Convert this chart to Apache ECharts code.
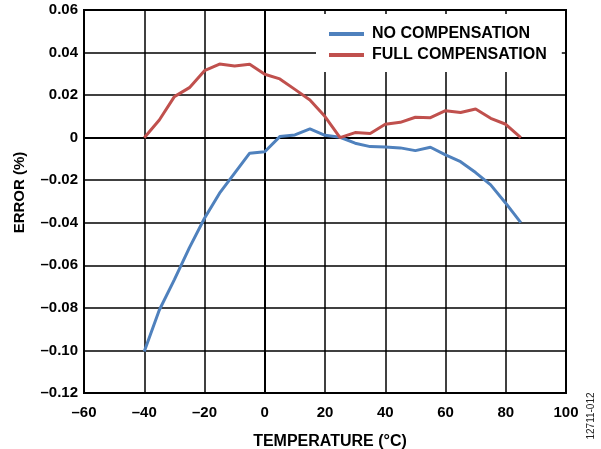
<!DOCTYPE html>
<html>
<head>
<meta charset="utf-8">
<script src="https://cdn.jsdelivr.net/npm/echarts@6/dist/echarts.min.js"></script>
<style>html,body{margin:0;padding:0;background:#fff}#c{width:601px;height:449px}</style>
</head>
<body>
<div id="c"></div>
<script>
var temperatures = [-40,-35,-30,-25,-20,-15,-10,-5,0,5,10,15,20,25,30,35,40,45,50,55,60,65,70,75,80,85];
var noCompensation = [-0.1005,-0.081,-0.0667,-0.0517,-0.0379,-0.0261,-0.0167,-0.0073,-0.0066,0.0005,0.0013,0.0041,0.0011,0.0002,-0.0026,-0.0042,-0.0044,-0.0048,-0.0061,-0.0045,-0.0081,-0.0113,-0.0164,-0.0222,-0.0308,-0.0399];
var fullCompensation = [0.0,0.0083,0.0193,0.0235,0.0315,0.0346,0.0337,0.0345,0.0298,0.0276,0.0227,0.0177,0.0099,0.0,0.0024,0.002,0.0063,0.0072,0.0096,0.0094,0.0127,0.0118,0.0135,0.0091,0.0063,0.0];
var seriesNames = ['NO COMPENSATION','FULL COMPENSATION'];
var xAxisTitle = 'TEMPERATURE (°C)';
var yAxisTitle = 'ERROR (%)';
var figureId = '12711-012';

function pairs(xs, ys){ return xs.map(function(x,i){ return [x, ys[i]]; }); }
function fmt(v, d){
  if (Math.abs(v) < 1e-9) return '0';
  var s = Math.abs(v).toFixed(d);
  return (v < 0 ? '\u2013' : '') + s;
}
var FF = '"Liberation Sans", Arial, sans-serif';
var chart = echarts.init(document.getElementById('c'), null, {renderer:'canvas'});
chart.setOption({
  animation:false,
  backgroundColor:'#fff',
  grid:{left:84,right:35,top:10,bottom:56,show:true,borderColor:'#000',borderWidth:2,containLabel:false,outerBoundsMode:'none'},
  legend:{
    left:316, top:14, orient:'vertical',
    backgroundColor:'#fff',
    padding:[12,15,9,13],
    itemGap:5, itemWidth:35, itemHeight:4,
    icon:'rect',
    textStyle:{fontFamily:FF,fontWeight:'bold',fontSize:16,lineHeight:16,color:'#000',padding:[0,0,0,3]},
    data:seriesNames
  },
  xAxis:{
    type:'value', min:-60, max:100, interval:20,
    name:xAxisTitle, nameLocation:'middle', nameGap:41,
    nameTextStyle:{fontFamily:FF,fontWeight:'bold',fontSize:16,color:'#000',padding:[0,0,0,10]},
    axisLine:{lineStyle:{color:'#000',width:2}},
    axisTick:{show:false},
    axisLabel:{fontFamily:FF,fontWeight:'bold',fontSize:15,color:'#000',margin:12,formatter:function(v){return fmt(v,0);}},
    splitLine:{show:true,lineStyle:{color:'#000',width:1.5}}
  },
  yAxis:{
    type:'value', min:-0.12, max:0.06, interval:0.02,
    name:yAxisTitle, nameLocation:'middle', nameGap:57, nameRotate:90,
    nameTextStyle:{fontFamily:FF,fontWeight:'bold',fontSize:15,color:'#000',padding:[0,0,0,18]},
    axisLine:{lineStyle:{color:'#000',width:2}},
    axisTick:{show:false},
    axisLabel:{fontFamily:FF,fontWeight:'bold',fontSize:15,color:'#000',margin:6,formatter:function(v){return fmt(v,2);}},
    splitLine:{show:true,lineStyle:{color:'#000',width:1.5}}
  },
  graphic:[{
    type:'text', x:591, y:416, rotation:Math.PI/2,
    style:{text:figureId,fontFamily:FF,fontSize:10,fill:'#222',align:'center',verticalAlign:'middle'}
  }],
  series:[
    {name:seriesNames[0],type:'line',data:pairs(temperatures,noCompensation),showSymbol:false,symbol:'none',
     lineStyle:{color:'#4F81BD',width:3},itemStyle:{color:'#4F81BD'},z:3},
    {name:seriesNames[1],type:'line',data:pairs(temperatures,fullCompensation),showSymbol:false,symbol:'none',
     lineStyle:{color:'#C0504D',width:3},itemStyle:{color:'#C0504D'},z:3}
  ]
});
</script>
</body>
</html>
